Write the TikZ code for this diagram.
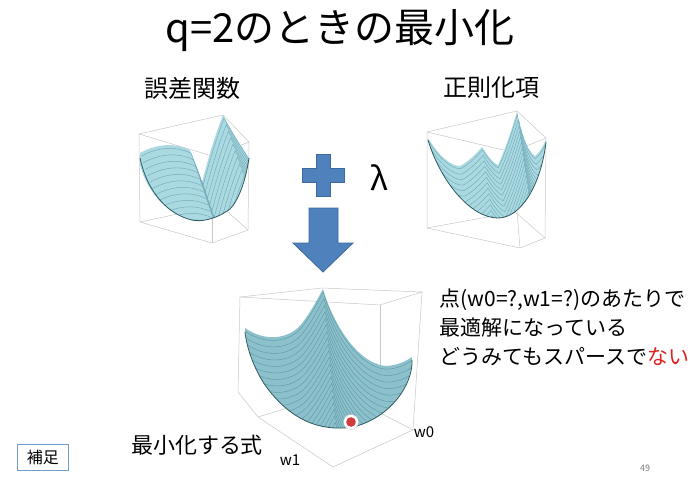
\documentclass[tikz,border=0pt]{standalone}
\usepackage{fontspec}
\setmainfont{Noto Sans CJK JP}
\definecolor{slideblue}{HTML}{4F81BD}
\definecolor{slideblueline}{HTML}{3C6A9E}
\definecolor{surfcyan}{HTML}{ABD9E2}
\definecolor{surfmesh}{HTML}{76AFBB}
\definecolor{sumcyan}{HTML}{8CC1CC}
\definecolor{summesh}{HTML}{649DAA}
\definecolor{surfdark}{HTML}{2E5A63}
\definecolor{boxgray}{HTML}{C8C8C8}
\definecolor{dotred}{HTML}{D23B3B}
\definecolor{alertred}{HTML}{E0201E}
\tikzset{
  boxline/.style={draw=boxgray, line width=0.5pt},
  surface/.style={fill=surfcyan},
  mesh/.style={draw=surfmesh, line width=0.5pt},
  underside/.style={draw=surfdark, line width=0.8pt},
  bluefill/.style={fill=slideblue, draw=slideblueline, line width=0.8pt},
  heading/.style={font=\fontsize{24}{28}\selectfont},
  remark/.style={font=\fontsize{21}{25}\selectfont, anchor=west},
  axislabel/.style={font=\fontsize{15}{18}\selectfont}
}
% top edges and outlines of the three surfaces
\def\errortop{(140,153) .. controls (160,142) and (178,144) .. (190,150) .. controls (194,160) and (199,173) .. (202,182) .. controls (209,155) and (217,130) .. (223,115) .. controls (232,132) and (242,147) .. (249,158)}
\def\errorsurf{\errortop .. controls (245,185) and (237,202) .. (230,209) .. controls (215,220) and (200,222) .. (192,220) .. controls (170,215) and (148,195) .. (140,165) -- cycle}
\def\regtop{(428,138) .. controls (440,158) and (452,166) .. (460,166) .. controls (468,162) and (477,153) .. (482,147) .. controls (487,155) and (493,163) .. (498,165) .. controls (506,148) and (513,125) .. (517,112) .. controls (522,135) and (528,152) .. (535,156) .. controls (540,152) and (543,146) .. (546,140)}
\def\regsurf{\regtop .. controls (541,185) and (521,218) .. (498,218) .. controls (470,218) and (440,180) .. (428,140) -- cycle}
\def\sumtop{(245,328) .. controls (265,342) and (290,340) .. (303,322) .. controls (312,310) and (318,298) .. (323,289) .. controls (332,320) and (355,362) .. (385,366) .. controls (395,366) and (405,362) .. (412,357)}
\def\sumsurf{\sumtop .. controls (413,385) and (390,418) .. (353,427) .. controls (320,432) and (290,420) .. (265,385) .. controls (255,370) and (247,350) .. (245,330) -- cycle}
\begin{document}
\begin{tikzpicture}[x=1pt, y=-1pt]
\fill[white] (0,0) rectangle (697,477);
\useasboundingbox (0,0) rectangle (697,477);

% titles
\node[font=\fontsize{40}{46}\selectfont] (title) at (340,31) {q=2のときの最小化};
\node[heading] (errlabel) at (192,88) {誤差関数};
\node[heading] (reglabel) at (491,88) {正則化項};

% error surface
\draw[boxline] (139,134) -- (223,115) -- (249,142) -- (212,156) -- cycle;
\draw[boxline] (139,134) -- (140,222) -- (212,243) -- (248,230) -- (249,142);
\draw[boxline] (212,156) -- (212,243);
\draw[boxline] (140,222) -- (220,205) -- (248,230);
\draw[boxline] (223,115) -- (220,205);
\fill[surface] \errorsurf;
\begin{scope}
  \clip \errorsurf;
  \foreach \k in {0.5,1.5,...,14.5}
    \draw[mesh, shift={(\k*2.2,\k*6.5)}] \errortop;
\end{scope}
\draw[underside] (140,158) .. controls (148,195) and (170,215) .. (192,220) .. controls (200,222) and (215,220) .. (230,209) .. controls (237,202) and (245,185) .. (249,158);

% regulariser surface
\draw[boxline] (427,132) -- (517,111) -- (546,138) -- (512,152) -- cycle;
\draw[boxline] (427,132) -- (427,228) -- (520,248) -- (545,238) -- (546,138);
\draw[boxline] (512,152) -- (520,248);
\draw[boxline] (427,228) -- (515,212) -- (545,238);
\draw[boxline] (517,111) -- (515,212);
\fill[surface] \regsurf;
\begin{scope}
  \clip \regsurf;
  \foreach \k in {0.5,1.5,...,18.5}
    \draw[mesh, shift={(\k*0.8,\k*5.5)}] \regtop;
\end{scope}
\draw[underside] (546,142) .. controls (541,185) and (521,218) .. (498,218) .. controls (470,218) and (440,180) .. (428,140);

% plus, lambda and arrow
\draw[bluefill] (316,154) -- (330,154) -- (330,168) -- (344,168) -- (344,182) -- (330,182) -- (330,196) -- (316,196) -- (316,182) -- (302,182) -- (302,168) -- (316,168) -- cycle;
\node[font=\fontsize{32}{36}\selectfont] (lambda) at (379,178) {λ};
\draw[bluefill] (309,208) -- (338,208) -- (338,243) -- (353,243) -- (323,272) -- (293,243) -- (309,243) -- cycle;

% summed surface
\draw[boxline] (240,297) -- (322,288) -- (422,292) -- (380,305) -- cycle;
\draw[boxline] (240,297) -- (238,392) -- (258,417) -- (333,467) -- (413,430) -- (422,292);
\draw[boxline] (380,305) -- (380,366);
\draw[boxline] (258,417) -- (340,392) -- (413,430);
\fill[sumcyan] \sumsurf;
\begin{scope}
  \clip \sumsurf;
  \foreach \k in {0.5,1.5,...,20.5}
    \draw[mesh, draw=summesh, shift={(\k*0.6,\k*6.5)}] \sumtop;
\end{scope}
\draw[underside] (412,360) .. controls (413,385) and (390,418) .. (353,427) .. controls (320,432) and (290,420) .. (265,385) .. controls (255,370) and (247,350) .. (245,332);
\fill[white, draw=boxgray, line width=0.4pt] (351,422) circle (7.5);
\fill[dotred] (351,422) circle (4.8);
\node[axislabel] (wzero) at (424,432) {w0};
\node[axislabel] (wone) at (290,460) {w1};

% remarks
\node[remark] (point) at (436,300) {点(w0=?,w1=?)のあたりで};
\node[remark] (optimum) at (436,328) {最適解になっている};
\node[remark] (sparse) at (436,357) {どうみてもスパースで\textcolor{alertred}{ない}};
\node[font=\fontsize{22}{26}\selectfont] (objective) at (197,445) {最小化する式};
\node[draw=slideblue!80, line width=1pt, font=\fontsize{16}{19}\selectfont, minimum width=51pt, minimum height=26pt, inner sep=2pt] (note) at (43,457) {補足};
\node[text=gray, font=\fontsize{9}{11}\selectfont] (page) at (645,468) {49};
\end{tikzpicture}
\end{document}
